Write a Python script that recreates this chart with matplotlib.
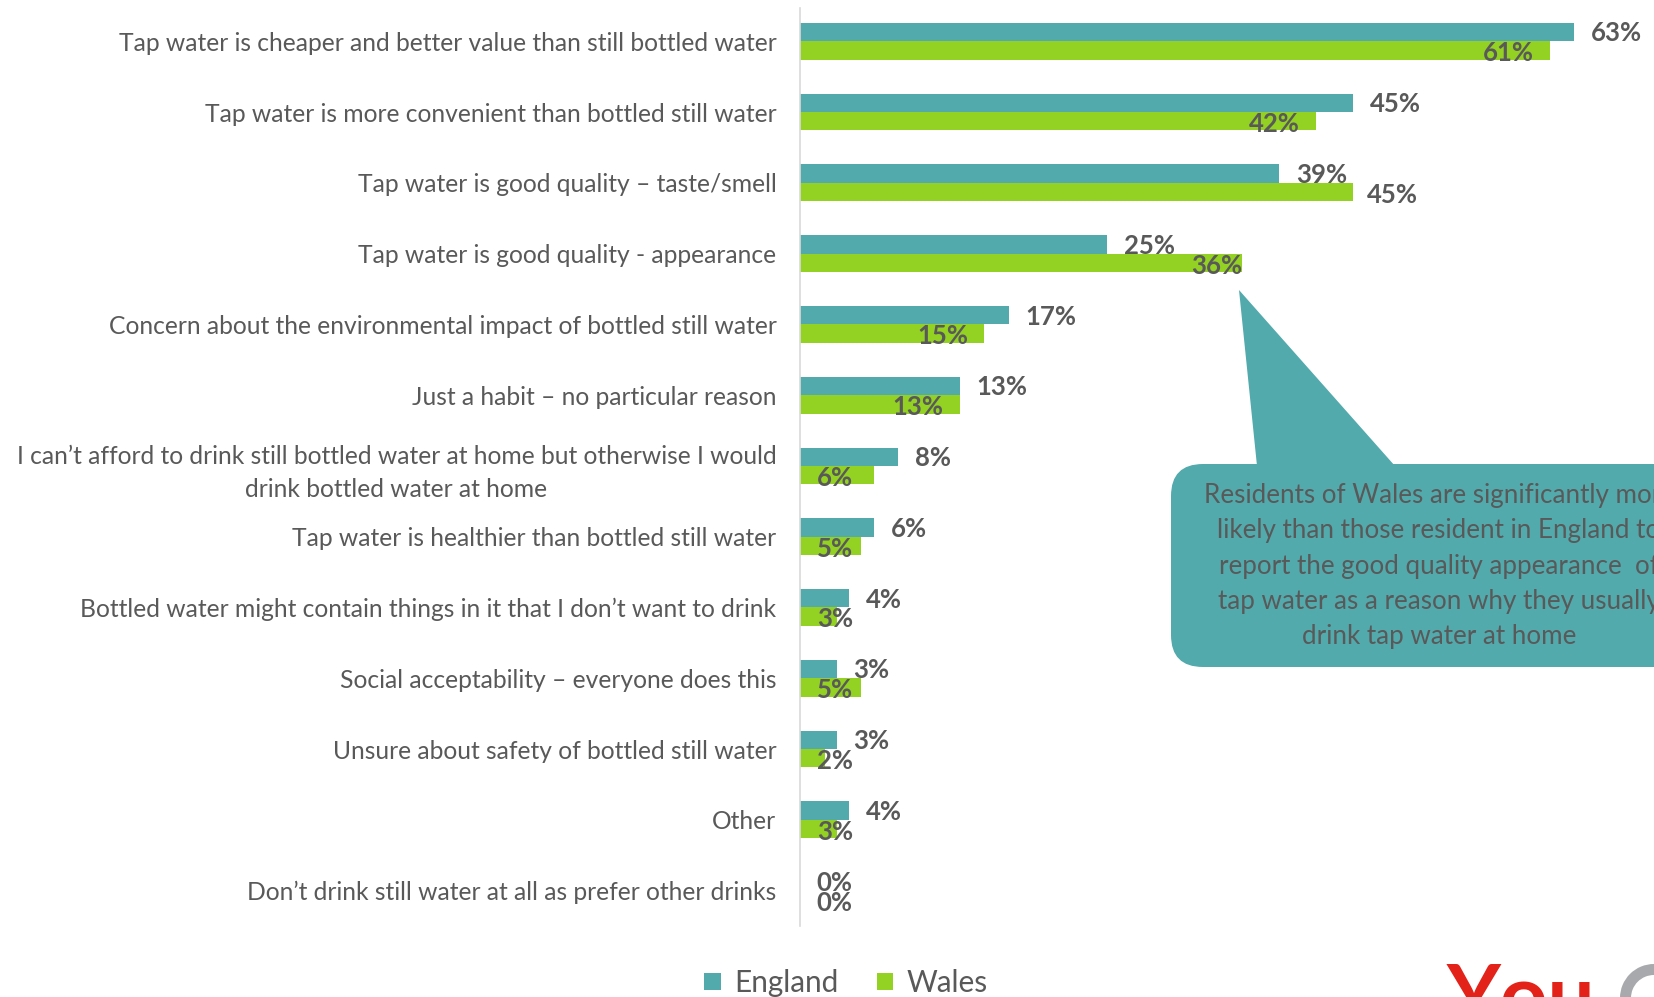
import matplotlib.pyplot as plt
import numpy as np
from matplotlib.patches import FancyBboxPatch, Polygon, Wedge

plt.rcParams["font.family"] = ["Lato", "DejaVu Sans"]

categories = [
    "Tap water is cheaper and better value than still bottled water",
    "Tap water is more convenient than bottled still water",
    "Tap water is good quality \u2013 taste/smell",
    "Tap water is good quality - appearance",
    "Concern about the environmental impact of bottled still water",
    "Just a habit \u2013 no particular reason",
    "I can\u2019t afford to drink still bottled water at home but otherwise I would\ndrink bottled water at home",
    "Tap water is healthier than bottled still water",
    "Bottled water might contain things in it that I don\u2019t want to drink",
    "Social acceptability \u2013 everyone does this",
    "Unsure about safety of bottled still water",
    "Other",
    "Don\u2019t drink still water at all as prefer other drinks",
]
england = [63, 45, 39, 25, 17, 13, 8, 6, 4, 3, 3, 4, 0]
wales = [61, 42, 45, 36, 15, 13, 6, 5, 3, 5, 2, 3, 0]
series_names = ["England", "Wales"]

note = ("Residents of Wales are significantly more\n"
        "likely than those resident in England to\n"
        "report the good quality appearance  of\n"
        "tap water as a reason why they usually\n"
        "drink tap water at home")

TEAL = "#52AAAC"
GREEN = "#93D122"
GREY = "#595959"

W, H = 1654, 997
fig = plt.figure(figsize=(W / 100, H / 100), dpi=100)
ax = fig.add_axes([800 / W, 1 - 926 / H, 1 - 800 / W, (926 - 8) / H])

y = np.arange(len(categories))
bh = 0.26
ax.barh(y - bh / 2, england, height=bh, color=TEAL, label=series_names[0])
ax.barh(y + bh / 2, wales, height=bh, color=GREEN, label=series_names[1])

ax.set_xlim(0, (W - 800) / 12.29)
ax.set_ylim(12.5, -0.47)

ax.set_yticks(y)
ax.set_yticklabels(categories, fontsize=17.7, color=GREY)
for t in ax.get_yticklabels():
    t.set_multialignment("center")
    t.set_linespacing(1.55)
ax.tick_params(axis="y", length=0, pad=17)
ax.set_xticks([])
for side in ["top", "right", "bottom"]:
    ax.spines[side].set_visible(False)
ax.spines["left"].set_color("#D9D9D9")
ax.spines["left"].set_linewidth(1.2)

lab_kw = dict(fontsize=18.5, fontweight="bold", color=GREY, va="center",
              textcoords="offset points", annotation_clip=False)

# England labels sit just past the bar end
for i, v in enumerate(england):
    ax.annotate(f"{v}%", (v, i - bh / 2), xytext=(12, -1), ha="left", **lab_kw)

# Wales labels sit inside the bar end; short bars get them at the axis
wales_override = {2: ("left", 10), 3: ("right", 0)}
for i, v in enumerate(wales):
    if i in wales_override:
        ha, dx = wales_override[i]
        ax.annotate(f"{v}%", (v, i + bh / 2), xytext=(dx, -2), ha=ha, **lab_kw)
    elif v < 8:
        ax.annotate(f"{v}%", (0, i + bh / 2), xytext=(12, -2), ha="left", **lab_kw)
    else:
        ax.annotate(f"{v}%", (v, i + bh / 2), xytext=(-11.5, -2), ha="right", **lab_kw)

# legend along the bottom
fig.legend(loc="center", bbox_to_anchor=(846 / W, 1 - 983 / H), ncol=2,
           frameon=False, fontsize=21.4, handlelength=0.55, handleheight=0.55,
           handletextpad=0.45, columnspacing=1.3, labelcolor=GREY)

# callout bubble and logo drawn in pixel space
ov = fig.add_axes([0, 0, 1, 1])
ov.set_xlim(0, W)
ov.set_ylim(H, 0)
ov.axis("off")
ov.add_patch(Polygon([(1239, 290), (1257, 466), (1395, 466)], closed=True,
                     facecolor=TEAL, edgecolor="none"))
ov.add_patch(FancyBboxPatch((1171 + 32, 464 + 32), 600, 203 - 64,
                            boxstyle="round,pad=32,rounding_size=32",
                            facecolor=TEAL, edgecolor="none"))
ov.text(1439, 566, note, ha="center", va="center", fontsize=18.7,
        color=GREY, linespacing=1.52, multialignment="center")

ov.text(1447, 962, "You", ha="left", va="top", fontsize=60, fontweight="bold",
        color="#E32219")
ov.add_patch(Wedge((1654, 998), 34, 0, 360, width=11, facecolor="#A7A9AC",
                   edgecolor="none"))

fig.savefig("out.png", dpi=100)
